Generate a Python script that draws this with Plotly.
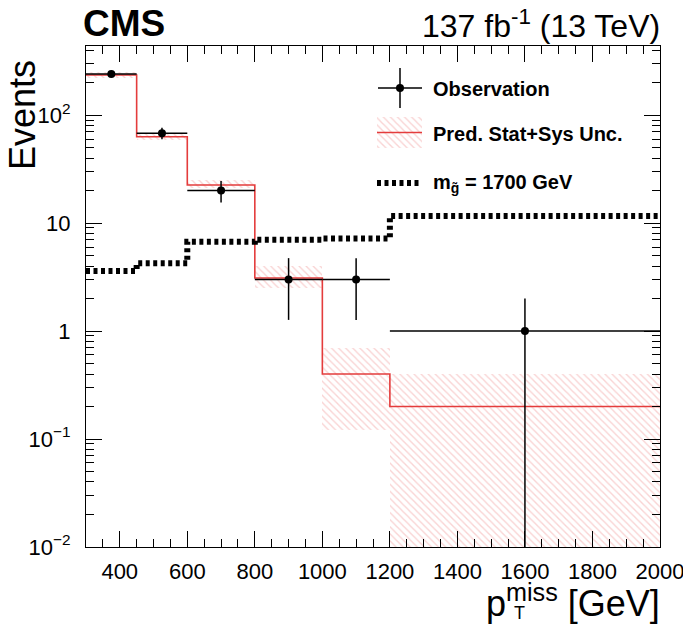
import plotly.graph_objects as go
import numpy as np

# ---- data ----
bin_edges = [300, 450, 600, 800, 1000, 1200, 2000]
obs = [240, 68, 20, 3, 3, 1]
pred = [235, 63, 22.5, 3.1, 0.4, 0.2]
pred_up = [250, 67, 25, 4.0, 0.7, 0.4]
pred_dn = [222, 59, 21, 2.5, 0.12, 0.001]
signal = [3.6, 4.25, 6.7, 7.0, 7.2, 11.6]
x_ticks = [400, 600, 800, 1000, 1200, 1400, 1600, 1800, 2000]
y_tickvals = [0.01, 0.1, 1, 10, 100]
y_ticktext = ["10<sup>−2</sup>", "10<sup>−1</sup>", "1", "10", "10<sup>2</sup>"]

edges = np.array(bin_edges, dtype=float)
centers = 0.5 * (edges[:-1] + edges[1:])
widths = edges[1:] - edges[:-1]
obs_a = np.array(obs, dtype=float)
err = np.sqrt(obs_a)
err_lo = np.minimum(err, obs_a * 0.999)

RED = "rgb(228,60,60)"
HATCH = "rgba(236,120,120,0.65)"
FONT = "Liberation Sans"

fig = go.Figure()

# uncertainty band (hatched)
fig.add_trace(go.Bar(
    x=centers, width=widths, base=pred_dn,
    y=np.array(pred_up) - np.array(pred_dn),
    marker=dict(color="rgba(0,0,0,0)", line_width=0,
                pattern=dict(shape="\\", fgcolor=HATCH, bgcolor="rgba(0,0,0,0)",
                             size=5, solidity=0.28, fillmode="overlay")),
    showlegend=False, hoverinfo="skip"))

# prediction step
fig.add_trace(go.Scatter(
    x=list(edges), y=list(pred) + [pred[-1]], mode="lines",
    line=dict(color=RED, width=1.6, shape="hv"), showlegend=False))

# signal step
fig.add_trace(go.Scatter(
    x=list(edges), y=list(signal) + [signal[-1]], mode="lines",
    line=dict(color="black", width=6, shape="hv", dash="4px,3.5px"),
    showlegend=False))

# observation
fig.add_trace(go.Scatter(
    x=centers, y=obs_a, mode="markers",
    marker=dict(color="black", size=8),
    error_x=dict(type="data", array=widths / 2, color="black", thickness=1.5, width=0),
    error_y=dict(type="data", array=err, arrayminus=err_lo, color="black",
                 thickness=1.5, width=0),
    showlegend=False))

# ---- legend drawn on an overlay pixel-like axis ----
L = dict(xaxis="x2", yaxis="y2", showlegend=False, hoverinfo="skip")
fig.add_trace(go.Scatter(x=[400], y=[88], mode="markers",
                         marker=dict(color="black", size=8),
                         error_x=dict(type="constant", value=22, color="black", thickness=1.5, width=0),
                         error_y=dict(type="constant", value=20, color="black", thickness=1.5, width=0),
                         **L))
fig.add_trace(go.Scatter(x=[377, 422, 422, 377, 377], y=[117, 117, 148, 148, 117],
                         mode="lines", fill="toself", line=dict(width=0, color="rgba(0,0,0,0)"),
                         fillcolor="rgba(0,0,0,0)",
                         fillpattern=dict(shape="\\", fgcolor=HATCH, bgcolor="rgba(0,0,0,0)",
                                          size=5, solidity=0.28, fillmode="overlay"),
                         **L))
fig.add_trace(go.Scatter(x=[377, 422], y=[132.5, 132.5], mode="lines",
                         line=dict(color=RED, width=1.6), **L))
fig.add_trace(go.Scatter(x=[377, 422], y=[183, 183], mode="lines",
                         line=dict(color="black", width=6, dash="4px,3.5px"), **L))

leg_font = dict(family=FONT, size=20, color="black")
for txt, yy in [("<b>Observation</b>", 89), ("<b>Pred. Stat+Sys Unc.</b>", 134),
                ("<b>m<sub>g̃</sub> = 1700 GeV</b>", 183)]:
    fig.add_annotation(x=431, y=yy, xref="x2", yref="y2", text=txt, showarrow=False,
                       xanchor="left", yanchor="middle", font=leg_font)

# ---- axes ----
axis_common = dict(showgrid=False, zeroline=False, showline=True, linecolor="black",
                   linewidth=1.2, mirror="allticks", ticks="inside", tickcolor="black",
                   ticklabeloverflow="allow", automargin=False,
                   tickfont=dict(family=FONT, size=22, color="black"))
fig.update_layout(
    width=683, height=624,
    margin=dict(l=86, r=23, t=46, b=77, autoexpand=False),
    paper_bgcolor="white", plot_bgcolor="white",
    bargap=0, barmode="overlay",
    xaxis=dict(range=[300, 2000], tickvals=x_ticks, ticklen=16, tickwidth=1.2,
               ticklabelstandoff=4,
               minor=dict(ticks="inside", ticklen=8, dtick=50, tick0=0, tickcolor="black", tickwidth=1),
               **axis_common),
    yaxis=dict(type="log", range=[-2, np.log10(436)], tickvals=y_tickvals,
               ticktext=y_ticktext, ticklen=16, tickwidth=1.2,
               ticklabelstandoff=10,
               minor=dict(ticks="inside", ticklen=8, dtick="D1", tickcolor="black", tickwidth=1),
               **axis_common),
    xaxis2=dict(overlaying="x", range=[86, 660], visible=False, fixedrange=True, automargin=False),
    yaxis2=dict(overlaying="y", range=[547, 46], visible=False, fixedrange=True, automargin=False),
)

# ---- header & titles ----
fig.add_annotation(x=0, y=1, xref="paper", yref="paper", text="<b>CMS</b>",
                   showarrow=False, xanchor="left", yanchor="bottom", yshift=0, xshift=-5,
                   font=dict(family=FONT, size=37, color="black"))
fig.add_annotation(x=1, y=1, xref="paper", yref="paper",
                   text="137 fb<sup>-1</sup> (13 TeV)", showarrow=False,
                   xanchor="right", yanchor="bottom", yshift=0, xshift=2,
                   font=dict(family=FONT, size=32, color="black"))
fig.add_annotation(x=0, y=1, xref="paper", yref="paper", text="Events",
                   showarrow=False, textangle=-90, xanchor="center", yanchor="top",
                   xshift=-64, yshift=-12,
                   font=dict(family=FONT, size=36, color="black"))
fig.add_annotation(x=1, y=0, xref="paper", yref="paper",
                   text="p<sup>miss</sup> [GeV]", showarrow=False,
                   xanchor="right", yanchor="middle", yshift=-54, xshift=2,
                   font=dict(family=FONT, size=36, color="black"))
fig.add_annotation(x=1, y=0, xref="paper", yref="paper", text="T",
                   showarrow=False, xanchor="center", yanchor="middle",
                   xshift=-141, yshift=-66,
                   font=dict(family=FONT, size=18, color="black"))

fig.write_html("out.html")
